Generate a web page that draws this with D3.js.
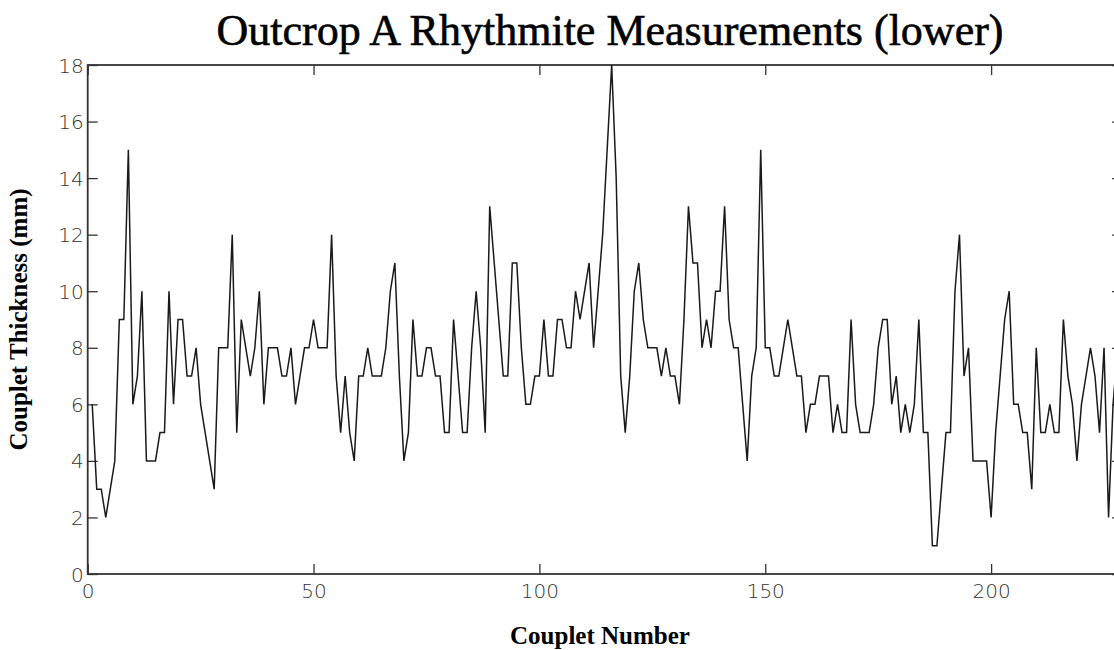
<!DOCTYPE html>
<html>
<head>
<meta charset="utf-8">
<script src="https://cdn.jsdelivr.net/npm/d3@7"></script>
<style>
  body { margin: 0; background: #fff; }
  .tick text { font-family: "DejaVu Sans", sans-serif; font-weight: 200; fill: #333; }
</style>
</head>
<body>
<div id="chart"></div>
<script>
// couplet thickness (mm), couplet 1 .. 228
let thickness = [
    6, 3, 3, 2, 3, 4, 9, 9, 15, 6, 7, 10, 4, 4, 4, 5, 5, 10, 6, 9,
    9, 7, 7, 8, 6, 5, 4, 3, 8, 8, 8, 12, 5, 9, 8, 7, 8, 10, 6, 8,
    8, 8, 7, 7, 8, 6, 7, 8, 8, 9, 8, 8, 8, 12, 7, 5, 7, 5, 4, 7,
    7, 8, 7, 7, 7, 8, 10, 11, 7, 4, 5, 9, 7, 7, 8, 8, 7, 7, 5, 5,
    9, 7, 5, 5, 8, 10, 8, 5, 13, 11, 9, 7, 7, 11, 11, 8, 6, 6, 7, 7,
    9, 7, 7, 9, 9, 8, 8, 10, 9, 10, 11, 8, 10, 12, 15, 18, 14, 7, 5, 7,
    10, 11, 9, 8, 8, 8, 7, 8, 7, 7, 6, 9, 13, 11, 11, 8, 9, 8, 10, 10,
    13, 9, 8, 8, 6, 4, 7, 8, 15, 8, 8, 7, 7, 8, 9, 8, 7, 7, 5, 6,
    6, 7, 7, 7, 5, 6, 5, 5, 9, 6, 5, 5, 5, 6, 8, 9, 9, 6, 7, 5,
    6, 5, 6, 9, 5, 5, 1, 1, 3, 5, 5, 10, 12, 7, 8, 4, 4, 4, 4, 2,
    5, 7, 9, 10, 6, 6, 5, 5, 3, 8, 5, 5, 6, 5, 5, 9, 7, 6, 4, 6,
    7, 8, 7, 5, 8, 2, 6, 8
];

let xTicks = [0, 50, 100, 150, 200];
let yTicks = [0, 2, 4, 6, 8, 10, 12, 14, 16, 18];

let titleText = "Outcrop A Rhythmite Measurements (lower)";
let xLabelText = "Couplet Number";
let yLabelText = "Couplet Thickness (mm)";

let svgWidth = 1114;
let svgHeight = 650;

// axes box (right edge runs past the picture)
let margin = {top: 65, left: 87.7};
let chartWidth = 1034.4;
let chartHeight = 509;

let svg = d3.select("#chart")
    .append("svg")
    .attr("width", svgWidth)
    .attr("height", svgHeight);

let chartGroup = svg.append("g")
    .attr("transform", `translate(${margin.left}, ${margin.top})`);

//scales
let xScale = d3.scaleLinear()
    .domain([0, 229])
    .range([0, chartWidth]);

let yScale = d3.scaleLinear()
    .domain([0, 18])
    .range([chartHeight, 0]);

//axes, ticks pointing inward like matlab
function styleAxis(g) {
    g.select(".domain").remove();
    g.selectAll(".tick line").attr("stroke", "#333").attr("stroke-width", 1.3);
}

chartGroup.append("g")
    .attr("transform", `translate(0, ${chartHeight})`)
    .call(d3.axisBottom(xScale).tickValues(xTicks).tickSizeInner(-10).tickPadding(10))
    .call(styleAxis)
    .selectAll("text").style("font-size", "20px");

chartGroup.append("g")
    .call(d3.axisTop(xScale).tickValues(xTicks).tickSizeInner(-10).tickFormat(""))
    .call(styleAxis);

chartGroup.append("g")
    .call(d3.axisLeft(yScale).tickValues(yTicks).tickSizeInner(-10).tickPadding(4))
    .call(styleAxis)
    .selectAll("text").style("font-size", "20px").attr("dy", "0.35em");

chartGroup.append("g")
    .attr("transform", `translate(${chartWidth}, 0)`)
    .call(d3.axisRight(yScale).tickValues(yTicks).tickSizeInner(-10).tickFormat(""))
    .call(styleAxis);

//box
chartGroup.append("rect")
    .attr("width", chartWidth)
    .attr("height", chartHeight)
    .attr("fill", "none")
    .attr("stroke", "#333")
    .attr("stroke-width", 1.8);

//data line
let line = d3.line()
    .x((d, i) => xScale(i + 1))
    .y(d => yScale(d));

chartGroup.append("path")
    .datum(thickness)
    .attr("d", line)
    .attr("fill", "none")
    .attr("stroke", "#1a1a1a")
    .attr("stroke-width", 1.5);

//labels
svg.append("text")
    .attr("x", 610)
    .attr("y", 45)
    .attr("text-anchor", "middle")
    .style("font-family", "'Liberation Serif', 'Times New Roman', serif")
    .style("font-size", "44px")
    .style("stroke", "#000")
    .style("stroke-width", 0.6)
    .text(titleText);

svg.append("text")
    .attr("x", 600)
    .attr("y", 644)
    .attr("text-anchor", "middle")
    .style("font-family", "'Liberation Serif', 'Times New Roman', serif")
    .style("font-weight", "bold")
    .style("font-size", "25px")
    .text(xLabelText);

svg.append("text")
    .attr("transform", "rotate(-90)")
    .attr("x", 0 - (margin.top + chartHeight / 2))
    .attr("y", 27)
    .attr("text-anchor", "middle")
    .style("font-family", "'Liberation Serif', 'Times New Roman', serif")
    .style("font-weight", "bold")
    .style("font-size", "25px")
    .text(yLabelText);
</script>
</body>
</html>
